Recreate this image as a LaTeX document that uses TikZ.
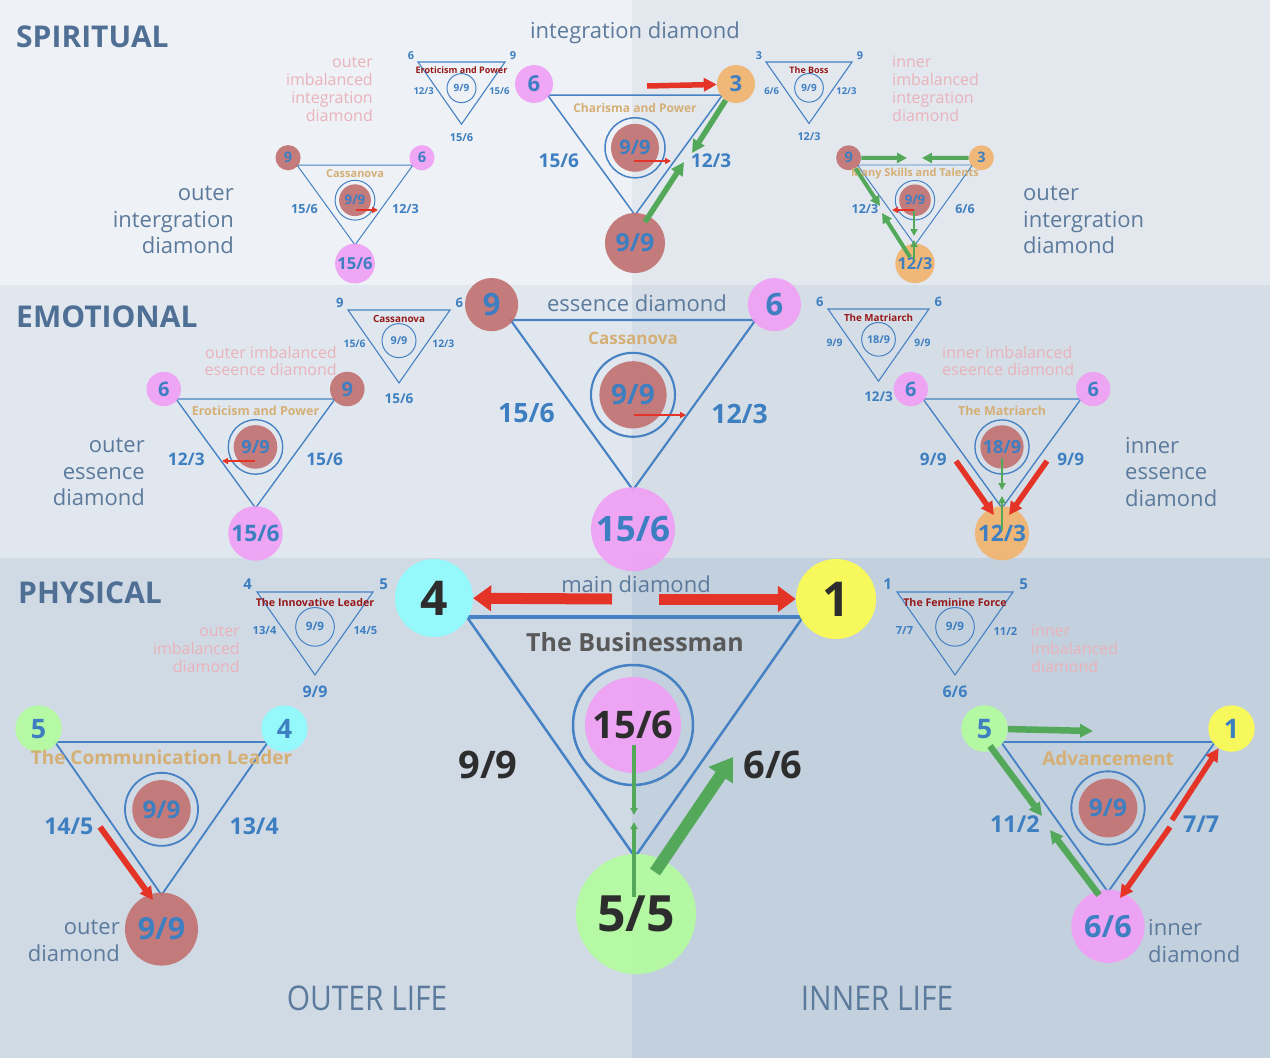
\documentclass[tikz,border=0pt]{standalone}
\usepackage{fontspec}
\setmainfont{Open Sans}
\newfontfamily\narrowfont{Open Sans}[FakeStretch=0.88]
\usepackage{tikz}
\usetikzlibrary{arrows.meta,positioning}
\definecolor{bgTL}{RGB}{238,241,245}
\definecolor{bgTR}{RGB}{227,232,239}
\definecolor{bgML}{RGB}{225,231,238}
\definecolor{bgMR}{RGB}{213,221,230}
\definecolor{bgBL}{RGB}{208,218,229}
\definecolor{bgBR}{RGB}{195,208,222}
\definecolor{numblue}{RGB}{61,127,193}
\definecolor{lineblue}{RGB}{70,130,195}
\definecolor{dred}{RGB}{193,114,114}
\definecolor{dpink}{RGB}{240,160,245}
\definecolor{dorange}{RGB}{242,180,110}
\definecolor{dgreen}{RGB}{180,252,160}
\definecolor{dcyan}{RGB}{144,251,252}
\definecolor{dyellow}{RGB}{252,252,80}
\definecolor{arrred}{RGB}{227,52,39}
\definecolor{arrgreen}{RGB}{83,168,90}
\definecolor{goldtxt}{RGB}{212,175,118}
\definecolor{titlered}{RGB}{150,25,25}
\definecolor{fadepink}{RGB}{234,178,186}
\definecolor{labgray}{RGB}{92,122,156}
\definecolor{headblue}{RGB}{79,111,149}
\definecolor{darktxt}{RGB}{45,45,45}
\newcommand{\fsz}[1]{\fontsize{#1}{#1}\selectfont}

\begin{document}
\begin{tikzpicture}[x=1pt,y=-1pt,
  vtx/.style={circle,inner sep=0pt,text=numblue,fill opacity=0.92,text opacity=1},
  ring/.style={circle,draw=lineblue,inner sep=0pt},
  tri/.style={draw=lineblue,line join=miter},
  lbl/.style={text=numblue,inner sep=0pt},
  ttl/.style={text=goldtxt,inner sep=0pt},
  fade/.style={text=fadepink,inner sep=0pt,font=\fsz{16}\linespread{1.12}\selectfont},
  desc/.style={text=labgray,inner sep=0pt,font=\fsz{22}\linespread{1.22}\selectfont},
  head/.style={text=headblue,inner sep=0pt,anchor=west,font=\fsz{30}\bfseries},
  bigred/.style={draw=arrred,line width=11pt,-{Triangle[length=18pt,width=25pt]}},
  biggreen/.style={draw=arrgreen,line width=12pt,-{Triangle[length=22pt,width=28pt]}},
  midred/.style={draw=arrred,line width=5.5pt,-{Triangle[length=13pt,width=13pt]}},
  midgreen/.style={draw=arrgreen,line width=5.5pt,-{Triangle[length=13pt,width=13pt]}},
  smgreen/.style={draw=arrgreen,line width=4pt,-{Triangle[length=10pt,width=10pt]}},
  thinred/.style={draw=arrred,line width=2.5pt,-{Triangle[length=6pt,width=6pt]}},
  thingreen/.style={draw=arrgreen,line width=2.5pt,-{Triangle[length=7pt,width=7pt]}}]

% background bands
\fill[bgTL] (0,0) rectangle (632,285);
\fill[bgTR] (632,0) rectangle (1270,285);
\fill[bgML] (0,285) rectangle (632,558);
\fill[bgMR] (632,285) rectangle (1270,558);
\fill[bgBL] (0,558) rectangle (632,1058);
\fill[bgBR] (632,558) rectangle (1270,1058);
\useasboundingbox (0,0) rectangle (1270,1058);

% headings
\node[head] (h-spi) at (16,37) {SPIRITUAL};
\node[head] (h-emo) at (16,317) {EMOTIONAL};
\node[head] (h-phy) at (18,593) {PHYSICAL};
\node[text=labgray,font=\fsz{22}] (t-int) at (635,33) {integration diamond};
\node[text=labgray,font=\fsz{22}] (t-ess) at (637,303) {essence diamond};
\node[text=labgray,font=\fsz{22}] (t-main) at (636,584) {main diamond};
\node[text=labgray,font=\narrowfont\fsz{34}] (t-out) at (367,998) {OUTER LIFE};
\node[text=labgray,font=\narrowfont\fsz{34}] (t-inn) at (877,998) {INNER LIFE};

% descriptions
\node[desc,align=right,anchor=east] (d-oi1) at (234,220) {outer\\intergration\\diamond};
\node[desc,align=left,anchor=west] (d-oi2) at (1023,220) {outer\\intergration\\diamond};
\node[desc,align=right,anchor=east] (d-oe) at (145,472) {outer\\essence\\diamond};
\node[desc,align=left,anchor=west] (d-ie) at (1125,472) {inner\\essence\\diamond};
\node[desc,align=right,anchor=east] (d-od) at (120,941) {outer\\diamond};
\node[desc,align=left,anchor=west] (d-id) at (1148,941) {inner\\diamond};
\node[fade,align=right,anchor=east] (f-oi) at (373,89) {outer\\imbalanced\\integration\\diamond};
\node[fade,align=left,anchor=west] (f-ii) at (892,89) {inner\\imbalanced\\integration\\diamond};
\node[fade,align=right,anchor=east] (f-oe) at (337,361) {outer imbalanced\\eseence diamond};
\node[fade,align=left,anchor=west] (f-ie) at (942,361) {inner imbalanced\\eseence diamond};
\node[fade,align=right,anchor=east] (f-od) at (240,649) {outer\\imbalanced\\diamond};
\node[fade,align=left,anchor=west] (f-id) at (1031,649) {inner\\imbalanced\\diamond};

% small imbalanced diamonds
\foreach \kn/\kx/\ky/\kw/\kti/\kta/\ktb/\kla/\klb/\kbot/\kcore in {
  ero/461.5/62/43.5/Eroticism and Power/6/9/{12/3}/{15/6}/{15/6}/{9/9},
  boss/809/62/43/The Boss/3/9/{6/6}/{12/3}/{12/3}/{9/9},
  cas/399/310/51/Cassanova/9/6/{15/6}/{12/3}/{15/6}/{9/9},
  mat/878.5/309/50.5/The Matriarch/6/6/{9/9}/{9/9}/{12/3}/{18/9},
  inn/315/592/58/The Innovative Leader/4/5/{13/4}/{14/5}/{9/9}/{9/9},
  fem/955/592/58/The Feminine Force/1/5/{7/7}/{11/2}/{6/6}/{9/9}} {
  \pgfmathsetmacro\ks{\kw/43.5}
  \pgfmathsetmacro\kh{1.43*\kw}
  \pgfmathsetmacro\kfl{9.5+5*(\ks-1)}
  \pgfmathsetmacro\kft{9+5*(\ks-1)}
  \pgfmathsetmacro\kfr{10+5*(\ks-1)}
  \pgfmathsetmacro\kfc{11+12*(\ks-1)}
  \pgfmathsetmacro\kfb{11+15*(\ks-1)}
  \pgfmathsetmacro\kdr{29*\ks}
  \coordinate (\kn-A) at (\kx-\kw,\ky);
  \coordinate (\kn-B) at (\kx+\kw,\ky);
  \coordinate (\kn-C) at (\kx,\ky+\kh);
  \draw[tri,line width=1.1pt] (\kn-A) -- (\kn-B) -- (\kn-C) -- cycle;
  \node[lbl,font=\fsz{\kfc}\bfseries] (\kn-tl) at (\kx-\kw-7*\ks,\ky-6*\ks) {\kta};
  \node[lbl,font=\fsz{\kfc}\bfseries] (\kn-tr) at (\kx+\kw+8*\ks,\ky-6*\ks) {\ktb};
  \node[ring,line width=1pt,minimum size=\kdr pt,text=numblue,font=\fsz{\kfr}\bfseries] (\kn-ring) at (\kx,\ky+0.42*\kh) {\kcore};
  \node[inner sep=0pt,text=titlered,font=\fsz{\kft}\bfseries] (\kn-title) at (\kx,\ky+8*\ks) {\kti};
  \node[lbl,font=\fsz{\kfl}\bfseries] (\kn-l) at (\kx-0.87*\kw,\ky+0.47*\kh) {\kla};
  \node[lbl,font=\fsz{\kfl}\bfseries] (\kn-r) at (\kx+0.87*\kw,\ky+0.47*\kh) {\klb};
  \node[lbl,font=\fsz{\kfb}\bfseries] (\kn-bl) at (\kx,\ky+\kh+13*\ks) {\kbot};
}

% diamonds with coloured corners
\foreach \qn/\qx/\qy/\qw/\qh/\qca/\qta/\qcb/\qtb/\qcc/\qtc/\qcd/\qtd/\qti/\qfs/\qla/\qlb in {
  int/635/95/87.5/120/dpink/6/dorange/3/dred/{9/9}/dred/{9/9}/Charisma and Power/12/{15/6}/{12/3},
  spl/355/165/58/80/dred/9/dpink/6/dpink/{15/6}/dred/{9/9}/Cassanova/11/{15/6}/{12/3},
  spr/915/165/57.5/80/dred/9/dorange/3/dorange/{12/3}/dred/{9/9}/Many Skills and Talents/11/{12/3}/{6/6},
  ess/633/320/122.5/170/dred/9/dpink/6/dpink/{15/6}/dred/{9/9}/Cassanova/17/{15/6}/{12/3},
  eml/255.5/399/79.5/109/dpink/6/dred/9/dpink/{15/6}/dred/{9/9}/Eroticism and Power/12.5/{12/3}/{15/6},
  emr/1002/399/79/109/dpink/6/dpink/6/dorange/{12/3}/dred/{18/9}/The Matriarch/12.5/{9/9}/{9/9},
  phl/161.5/742/106.5/153/dgreen/5/dcyan/4/dred/{9/9}/dred/{9/9}/The Communication Leader/19/{14/5}/{13/4},
  phr/1108/742/107/150/dgreen/5/dyellow/1/dpink/{6/6}/dred/{9/9}/Advancement/19/{11/2}/{7/7}} {
  \pgfmathsetmacro\qs{\qw/87.5}
  \pgfmathsetmacro\qfv{22*\qs}
  \pgfmathsetmacro\qfb{25*\qs}
  \pgfmathsetmacro\qfr{20*\qs}
  \pgfmathsetmacro\qfl{19*\qs}
  \pgfmathsetmacro\qdv{38*\qs}
  \pgfmathsetmacro\qdb{60*\qs}
  \pgfmathsetmacro\qdc{48*\qs}
  \pgfmathsetmacro\qlw{1.5*\qs}
  \coordinate (\qn-A) at (\qx-\qw,\qy);
  \coordinate (\qn-B) at (\qx+\qw,\qy);
  \coordinate (\qn-C) at (\qx,\qy+\qh);
  \draw[tri,line width=\qlw pt] (\qn-A) -- (\qn-B) -- (\qn-C) -- cycle;
  \node[vtx,fill=\qca,minimum size=\qdv pt,font=\fsz{\qfv}\bfseries] (\qn-tl) at (\qx-\qw-13.5*\qs,\qy-11*\qs) {\qta};
  \node[vtx,fill=\qcb,minimum size=\qdv pt,font=\fsz{\qfv}\bfseries] (\qn-tr) at (\qx+\qw+13.5*\qs,\qy-11*\qs) {\qtb};
  \node[vtx,fill=\qcc,minimum size=\qdb pt,font=\fsz{\qfb}\bfseries] (\qn-b) at (\qx,\qy+\qh+28*\qs) {\qtc};
  \node[ring,line width=\qlw pt,minimum size=\qdb pt] (\qn-ring) at (\qx,\qy+0.44*\qh) {};
  \node[vtx,fill=\qcd,minimum size=\qdc pt,font=\fsz{\qfr}\bfseries] (\qn-core) at (\qn-ring.center) {\qtd};
  \node[ttl,font=\fsz{\qfs}\bfseries] (\qn-title) at (\qx,\qy+13*\qs) {\qti};
  \node[lbl,font=\fsz{\qfl}\bfseries] (\qn-l) at (\qx-0.87*\qw,\qy+0.55*\qh) {\qla};
  \node[lbl,font=\fsz{\qfl}\bfseries] (\qn-r) at (\qx+0.87*\qw,\qy+0.55*\qh) {\qlb};
}

% main diamond
\coordinate (main-A) at (467,617);
\coordinate (main-B) at (803,617);
\coordinate (main-C) at (635,857);
\draw[tri,line width=2.5pt] (main-B) -- (main-C) -- (main-A);
\draw[tri,line width=3.5pt] (main-A) -- (main-B);
\node[vtx,fill=dcyan,text=darktxt,minimum size=78pt,font=\fsz{48}\bfseries] (main-tl) at (434,598) {4};
\node[vtx,fill=dyellow,text=darktxt,minimum size=80pt,font=\fsz{48}\bfseries] (main-tr) at (836,599) {1};
\node[vtx,fill=dgreen,text=darktxt,minimum size=120pt,font=\fsz{50}\bfseries] (main-b) at (636,914) {5/5};
\node[ring,line width=2.5pt,minimum size=120pt] (main-ring) at (633,725) {};
\node[vtx,fill=dpink,text=darktxt,minimum size=96pt,font=\fsz{38}\bfseries] (main-core) at (main-ring.center) {15/6};
\node[inner sep=0pt,text=black!65,font=\fsz{25}\bfseries] (main-title) at (635,642) {The Businessman};
\node[inner sep=0pt,text=darktxt,font=\fsz{38}\bfseries] (main-l) at (488,765) {9/9};
\node[inner sep=0pt,text=darktxt,font=\fsz{38}\bfseries] (main-r) at (773,765) {6/6};

% arrows: main
\coordinate (main-r0) at (612,599);
\coordinate (main-r1) at (659,599);
\draw[bigred] (main-r0) -- (main-tl);
\draw[bigred] (main-r1) -- (main-tr);
\coordinate (main-g0) at (655,872);
\coordinate (main-g1) at (733,757);
\draw[biggreen] (main-g0) -- (main-g1);
\coordinate (main-g2) at (634,745);
\coordinate (main-g3) at (634,815);
\coordinate (main-g4) at (634,897);
\coordinate (main-g5) at (634,822);
\draw[thingreen,line width=3.5pt] (main-g2) -- (main-g3);
\draw[thingreen,line width=3.5pt] (main-g4) -- (main-g5);

% arrows: spiritual
\coordinate (int-r0) at (647,86);
\draw[midred] (int-r0) -- (int-tr);
\coordinate (int-g0) at (692,153);
\draw[midgreen] (int-tr) -- (int-g0);
\coordinate (int-g1) at (645,222);
\coordinate (int-g2) at (684,162);
\draw[midgreen] (int-g1) -- (int-g2);
\coordinate (int-r1) at (634,161);
\coordinate (int-r2) at (671,161);
\draw[thinred] (int-r1) -- (int-r2);
\coordinate (spl-r0) at (356,210);
\coordinate (spl-r1) at (378,210);
\draw[thinred,line width=2pt] (spl-r0) -- (spl-r1);
\coordinate (spr-g0) at (907,158);
\coordinate (spr-g1) at (922,158);
\coordinate (spr-g2) at (880,206);
\coordinate (spr-g3) at (910,257);
\coordinate (spr-g4) at (882,213);
\draw[smgreen] (spr-tl) -- (spr-g0);
\draw[smgreen] (spr-tr) -- (spr-g1);
\draw[smgreen] (spr-tl) -- (spr-g2);
\draw[smgreen] (spr-g3) -- (spr-g4);
\coordinate (spr-t0) at (914,210);
\coordinate (spr-t1) at (914,236);
\coordinate (spr-t2) at (914,260);
\coordinate (spr-t3) at (914,240);
\coordinate (spr-t4) at (892,210);
\draw[thingreen,line width=2pt] (spr-t0) -- (spr-t1);
\draw[thingreen,line width=2pt] (spr-t2) -- (spr-t3);
\draw[thinred,line width=2pt] (spr-t0) -- (spr-t4);

% arrows: emotional
\coordinate (ess-r0) at (634,415);
\coordinate (ess-r1) at (686,415);
\draw[thinred] (ess-r0) -- (ess-r1);
\coordinate (eml-r0) at (255,461);
\coordinate (eml-r1) at (222,461);
\draw[thinred] (eml-r0) -- (eml-r1);
\coordinate (emr-r0) at (956,461);
\coordinate (emr-r1) at (994,515);
\coordinate (emr-r2) at (1047,461);
\coordinate (emr-r3) at (1009,515);
\draw[midred] (emr-r0) -- (emr-r1);
\draw[midred] (emr-r2) -- (emr-r3);
\coordinate (emr-g0) at (1002,458);
\coordinate (emr-g1) at (1002,490);
\coordinate (emr-g2) at (1002,530);
\coordinate (emr-g3) at (1002,496);
\draw[thingreen] (emr-g0) -- (emr-g1);
\draw[thingreen] (emr-g2) -- (emr-g3);

% arrows: physical
\coordinate (phl-r0) at (100,827);
\coordinate (phl-r1) at (153,900);
\draw[midred,line width=6pt] (phl-r0) -- (phl-r1);
\coordinate (phr-g0) at (1093,731);
\draw[midgreen,line width=6.5pt] (phr-tl) -- (phr-g0);
\coordinate (phr-g1) at (990,746);
\coordinate (phr-g2) at (1042,816);
\draw[midgreen,line width=6.5pt] (phr-g1) -- (phr-g2);
\coordinate (phr-g3) at (1099,895);
\coordinate (phr-g4) at (1050,830);
\draw[midgreen,line width=6.5pt] (phr-g3) -- (phr-g4);
\coordinate (phr-r0) at (1172,820);
\draw[midred] (phr-r0) -- (phr-tr);
\coordinate (phr-r1) at (1170,827);
\coordinate (phr-r2) at (1120,898);
\draw[midred] (phr-r1) -- (phr-r2);
\end{tikzpicture}
\end{document}
